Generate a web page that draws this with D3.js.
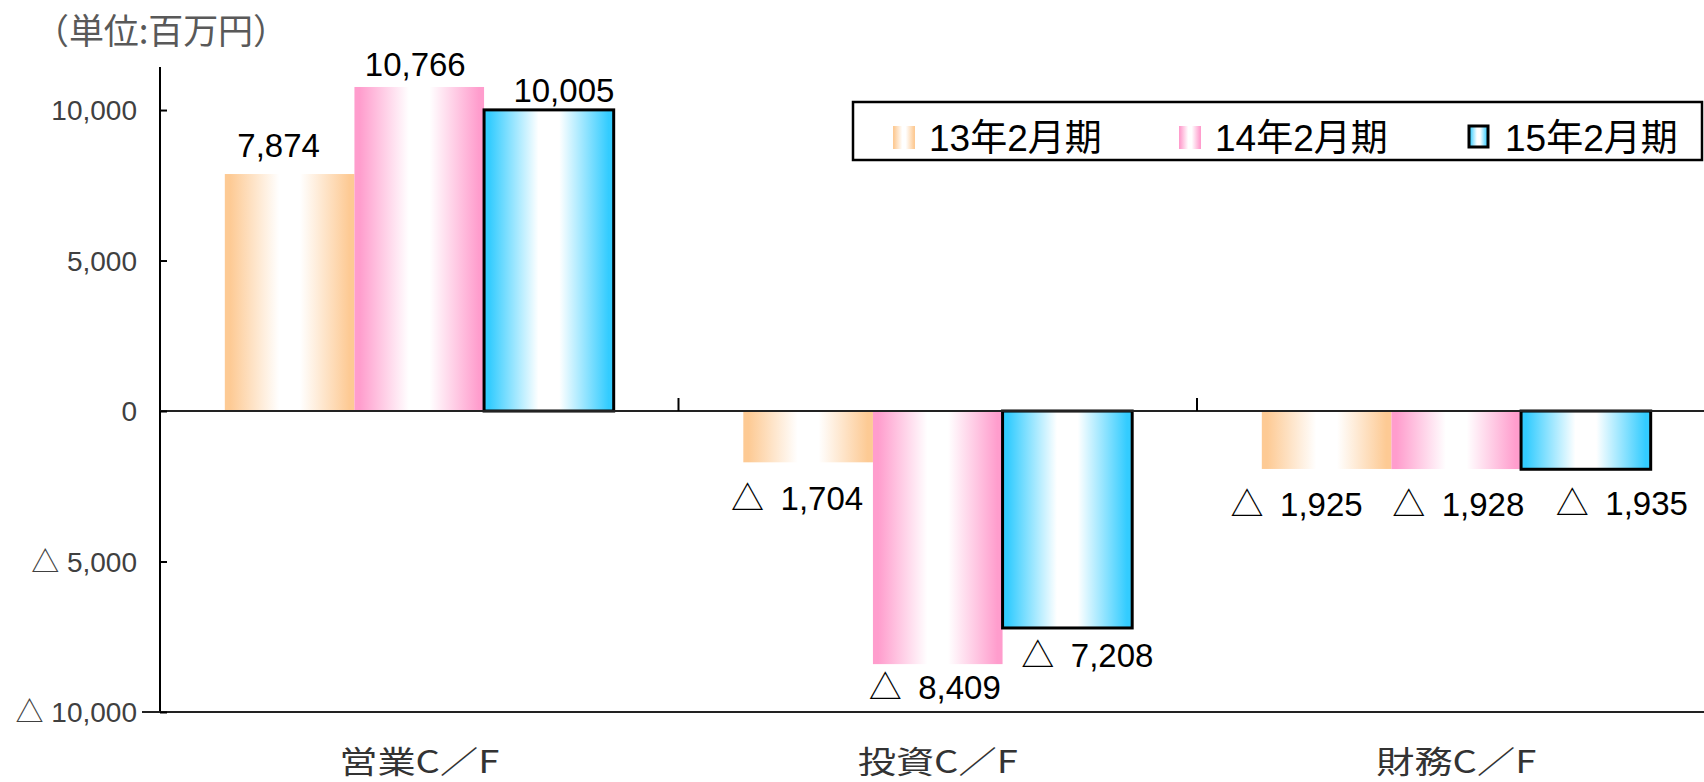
<!DOCTYPE html>
<html>
<head>
<meta charset="utf-8">
<script src="https://cdn.jsdelivr.net/npm/d3@7/dist/d3.min.js"></script>
<style>
  html, body { margin: 0; padding: 0; background: #fff; }
  svg { display: block; }
</style>
</head>
<body>
<svg id="chart" width="1704" height="782"></svg>
<script>
// ---- data (百万円) ----
const categories = ["営業C／F", "投資C／F", "財務C／F"];
const seriesNames = ["13年2月期", "14年2月期", "15年2月期"];
const fy13 = [7874, -1704, -1925];
const fy14 = [10766, -8409, -1928];
const fy15 = [10005, -7208, -1935];
const yTickValues = [-10000, -5000, 0, 5000, 10000];
const unitLabel = "（単位:百万円）";

// ---- layout ----
const W = 1704, H = 782;
const axisX = 160, axisTop = 67, axisBottom = 712;
const bandWidth = 518.5;
const seriesEdge = ["#fdca94", "#ff9dcd", "#33ccff"];
// hand-placed data label nudges [dx, dy] per series, per category
const labelNudge = [
  [[-11, -7], [-11, 14], [-30, 13]],
  [[-4, -1], [-3, 1], [2, 13]],
  [[15, 2], [20, 5], [36, 12]]
];

const seriesValues = [fy13, fy14, fy15];
const svg = d3.select("#chart");
const fmt = d3.format(",");
const signed = v => (v < 0 ? "△\u2002" : "") + fmt(Math.abs(v));
const numFont = "'Liberation Sans', Arial, 'Noto Sans CJK JP', sans-serif";
const cjkFont = "'Noto Sans CJK JP', sans-serif";

// ---- scales ----
const y = d3.scaleLinear().domain([-10000, 11430]).range([axisBottom, axisTop]);
const x0 = d3.scaleBand().domain(categories)
  .range([axisX, axisX + bandWidth * categories.length]).padding(0);
const x1 = d3.scaleBand().domain(d3.range(seriesNames.length))
  .range([0, x0.bandwidth()]).paddingInner(0).paddingOuter(0.5);

// ---- gradients: coloured edges fading to white in the middle ----
const defs = svg.append("defs");
seriesEdge.forEach((c, i) => {
  const g = defs.append("linearGradient").attr("id", "grad" + i)
    .attr("x1", "0%").attr("x2", "100%").attr("y1", "0%").attr("y2", "0%");
  [[0, c], [0.04, c], [0.42, "#ffffff"], [0.58, "#ffffff"], [0.96, c], [1, c]]
    .forEach(([o, col]) => g.append("stop").attr("offset", o).attr("stop-color", col));
});

// ---- unit label ----
svg.append("text")
  .attr("x", 34).attr("y", 44)
  .attr("font-family", cjkFont).attr("font-size", 35)
  .attr("fill", "#595959")
  .attr("textLength", 254)
  .attr("lengthAdjust", "spacing")
  .text(unitLabel);

// ---- bars ----
const barLayer = svg.append("g");
seriesValues.forEach((vals, si) => {
  barLayer.selectAll(null)
    .data(vals.map((v, ci) => ({ v, ci })))
    .join("rect")
    .attr("x", d => x0(categories[d.ci]) + x1(si))
    .attr("width", x1.bandwidth())
    .attr("y", d => y(Math.max(0, d.v)))
    .attr("height", d => Math.abs(y(d.v) - y(0)))
    .attr("fill", `url(#grad${si})`)
    .attr("stroke", si === 2 ? "#000" : "none")
    .attr("stroke-width", si === 2 ? 3 : 0);
});

// ---- axes ----
const axisG = svg.append("g").attr("stroke", "#000").attr("stroke-width", 2);
// vertical value axis
axisG.append("line").attr("x1", axisX).attr("x2", axisX)
  .attr("y1", axisTop).attr("y2", axisBottom);
// zero (category) line
axisG.append("line").attr("x1", axisX).attr("x2", W)
  .attr("y1", y(0)).attr("y2", y(0)).attr("stroke", "#222");
// bottom line
axisG.append("line").attr("x1", 142).attr("x2", W)
  .attr("y1", axisBottom).attr("y2", axisBottom).attr("stroke", "#222");

// category dividers on the zero line
axisG.selectAll(null)
  .data(categories.slice(1))
  .join("line")
  .attr("x1", d => x0(d)).attr("x2", d => x0(d))
  .attr("y1", y(0) - 13).attr("y2", y(0));

// value ticks (inward) and labels
const yAxis = d3.axisRight(y).tickValues(yTickValues).tickSize(7).tickFormat("");
const yAxisG = svg.append("g").attr("transform", `translate(${axisX},0)`).call(yAxis);
yAxisG.select(".domain").remove();
yAxisG.selectAll(".tick line").attr("stroke", "#000").attr("stroke-width", 2);

svg.append("g").selectAll(null)
  .data(yTickValues)
  .join("text")
  .attr("x", 137)
  .attr("y", d => y(d))
  .attr("dy", "0.36em")
  .attr("text-anchor", "end")
  .attr("font-family", numFont)
  .attr("font-size", 28)
  .attr("fill", "#404040")
  .text(d => (d < 0 ? "△ " : "") + fmt(Math.abs(d)));

// ---- category labels ----
svg.append("g").selectAll(null)
  .data(categories)
  .join("text")
  .attr("x", d => x0(d) + x0.bandwidth() / 2)
  .attr("y", 773)
  .attr("text-anchor", "middle")
  .attr("font-family", cjkFont)
  .attr("font-size", 31)
  .attr("fill", "#333")
  .attr("textLength", 160)
  .attr("lengthAdjust", "spacingAndGlyphs")
  .text(d => d);

// ---- data labels ----
seriesValues.forEach((vals, si) => {
  svg.append("g").selectAll(null)
    .data(vals.map((v, ci) => ({ v, ci })))
    .join("text")
    .attr("x", d => x0(categories[d.ci]) + x1(si) + x1.bandwidth() / 2 + labelNudge[si][d.ci][0])
    .attr("y", d => (d.v >= 0 ? y(d.v) - 10 : y(d.v) + 34) + labelNudge[si][d.ci][1])
    .attr("text-anchor", "middle")
    .attr("font-family", numFont)
    .attr("font-size", 33)
    .attr("fill", "#000")
    .text(d => signed(d.v));
});

// ---- legend ----
const legend = svg.append("g");
legend.append("rect")
  .attr("x", 853).attr("y", 102).attr("width", 849).attr("height", 58)
  .attr("fill", "#fff").attr("stroke", "#000").attr("stroke-width", 2.5);
const legendX = [893, 1179, 1469];
seriesNames.forEach((name, i) => {
  legend.append("rect")
    .attr("x", legendX[i]).attr("y", 126)
    .attr("width", i === 2 ? 19 : 22).attr("height", i === 2 ? 21 : 23)
    .attr("fill", `url(#grad${i})`)
    .attr("stroke", i === 2 ? "#000" : "none")
    .attr("stroke-width", i === 2 ? 3 : 0);
  legend.append("text")
    .attr("x", legendX[i] + 36).attr("y", 151)
    .attr("font-family", numFont)
    .attr("font-size", 37)
    .attr("fill", "#000")
    .text(name);
});
</script>
</body>
</html>
